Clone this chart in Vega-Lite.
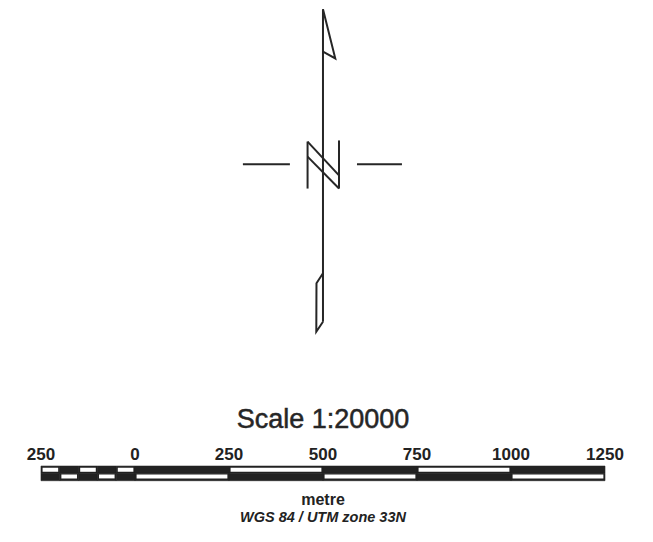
{
  "$schema": "https://vega.github.io/schema/vega-lite/v6.json",
  "width": 653,
  "height": 542,
  "padding": 0,
  "autosize": {"type": "fit", "contains": "padding"},
  "background": "white",
  "config": {"view": {"stroke": null}},
  "datasets": {
    "segments": [
      {"row": "top", "start": -250, "end": -200, "fill": "white"},
      {"row": "top", "start": -200, "end": -150, "fill": "black"},
      {"row": "top", "start": -150, "end": -100, "fill": "white"},
      {"row": "top", "start": -100, "end": -50, "fill": "black"},
      {"row": "top", "start": -50, "end": 0, "fill": "white"},
      {"row": "top", "start": 0, "end": 250, "fill": "black"},
      {"row": "top", "start": 250, "end": 500, "fill": "white"},
      {"row": "top", "start": 500, "end": 750, "fill": "black"},
      {"row": "top", "start": 750, "end": 1000, "fill": "white"},
      {"row": "top", "start": 1000, "end": 1250, "fill": "black"},
      {"row": "bottom", "start": -250, "end": -200, "fill": "black"},
      {"row": "bottom", "start": -200, "end": -150, "fill": "white"},
      {"row": "bottom", "start": -150, "end": -100, "fill": "black"},
      {"row": "bottom", "start": -100, "end": -50, "fill": "white"},
      {"row": "bottom", "start": -50, "end": 0, "fill": "black"},
      {"row": "bottom", "start": 0, "end": 250, "fill": "white"},
      {"row": "bottom", "start": 250, "end": 500, "fill": "black"},
      {"row": "bottom", "start": 500, "end": 750, "fill": "white"},
      {"row": "bottom", "start": 750, "end": 1000, "fill": "black"},
      {"row": "bottom", "start": 1000, "end": 1250, "fill": "white"}
    ],
    "ticks": [
      {"m": -250, "label": "250"},
      {"m": 0, "label": "0"},
      {"m": 250, "label": "250"},
      {"m": 500, "label": "500"},
      {"m": 750, "label": "750"},
      {"m": 1000, "label": "1000"},
      {"m": 1250, "label": "1250"}
    ],
    "arrow": [
      {"shape": "main", "i": 0, "x": 500, "y": 1417},
      {"shape": "main", "i": 1, "x": 500, "y": 586},
      {"shape": "flag", "i": 0, "x": 500, "y": 1417},
      {"shape": "flag", "i": 1, "x": 532.7, "y": 1286},
      {"shape": "flag", "i": 2, "x": 500, "y": 1304},
      {"shape": "para", "i": 0, "x": 500, "y": 714.6},
      {"shape": "para", "i": 1, "x": 482.7, "y": 688},
      {"shape": "para", "i": 2, "x": 482.2, "y": 559.3},
      {"shape": "para", "i": 3, "x": 500, "y": 585.9},
      {"shape": "hleft", "i": 0, "x": 287, "y": 1004.5},
      {"shape": "hleft", "i": 1, "x": 412, "y": 1004.5},
      {"shape": "hright", "i": 0, "x": 590.4, "y": 1004.5},
      {"shape": "hright", "i": 1, "x": 710, "y": 1004.5},
      {"shape": "nleft", "i": 0, "x": 459, "y": 940},
      {"shape": "nleft", "i": 1, "x": 459, "y": 1065},
      {"shape": "ndiag1", "i": 0, "x": 459, "y": 1065},
      {"shape": "ndiag1", "i": 1, "x": 542.6, "y": 975},
      {"shape": "ndiag2", "i": 0, "x": 459, "y": 1025},
      {"shape": "ndiag2", "i": 1, "x": 542.6, "y": 940},
      {"shape": "nright", "i": 0, "x": 542.6, "y": 940},
      {"shape": "nright", "i": 1, "x": 542.6, "y": 1068}
    ],
    "titles": [
      {"key": "scale", "text": "Scale 1:20000"},
      {"key": "unit", "text": "metre"},
      {"key": "crs", "text": "WGS 84 / UTM zone 33N"}
    ]
  },
  "layer": [
    {
      "data": {"name": "segments"},
      "transform": [{"filter": "datum.row === 'top'"}],
      "mark": {"type": "rect", "color": "#222222", "stroke": "#222222", "strokeWidth": 0.6},
      "encoding": {
        "x": {"field": "start", "type": "quantitative", "scale": {"domain": [-359, 1377.7], "nice": false, "zero": false}, "axis": null},
        "x2": {"field": "end"},
        "y": {"datum": 202, "type": "quantitative", "scale": {"domain": [0, 1441.5], "nice": false, "zero": false}, "axis": null},
        "y2": {"datum": 183}
      }
    },
    {
      "data": {"name": "segments"},
      "transform": [{"filter": "datum.row === 'bottom'"}],
      "mark": {"type": "rect", "color": "#222222", "stroke": "#222222", "strokeWidth": 0.6},
      "encoding": {
        "x": {"field": "start", "type": "quantitative"},
        "x2": {"field": "end"},
        "y": {"datum": 183, "type": "quantitative"},
        "y2": {"datum": 163}
      }
    },
    {
      "data": {"name": "segments"},
      "transform": [{"filter": "datum.row === 'top' && datum.fill === 'white'"}],
      "mark": {"type": "rect", "color": "white", "xOffset": 1.6, "x2Offset": -1.6, "yOffset": 1.7, "y2Offset": -1.4},
      "encoding": {
        "x": {"field": "start", "type": "quantitative"},
        "x2": {"field": "end"},
        "y": {"datum": 202, "type": "quantitative"},
        "y2": {"datum": 183}
      }
    },
    {
      "data": {"name": "segments"},
      "transform": [{"filter": "datum.row === 'bottom' && datum.fill === 'white'"}],
      "mark": {"type": "rect", "color": "white", "xOffset": 1.6, "x2Offset": -1.6, "yOffset": 1.3, "y2Offset": -2.3},
      "encoding": {
        "x": {"field": "start", "type": "quantitative"},
        "x2": {"field": "end"},
        "y": {"datum": 183, "type": "quantitative"},
        "y2": {"datum": 163}
      }
    },
    {
      "data": {"name": "ticks"},
      "mark": {"type": "text", "font": "Liberation Sans", "fontSize": 17, "fontWeight": "bold", "color": "#222222", "align": "center", "baseline": "alphabetic"},
      "encoding": {
        "x": {"field": "m", "type": "quantitative"},
        "y": {"datum": 219.4, "type": "quantitative"},
        "text": {"field": "label"}
      }
    },
    {
      "data": {"name": "arrow"},
      "mark": {"type": "line", "color": "#262626", "strokeWidth": 2, "strokeJoin": "miter", "strokeCap": "butt"},
      "encoding": {
        "x": {"field": "x", "type": "quantitative"},
        "y": {"field": "y", "type": "quantitative"},
        "detail": {"field": "shape"},
        "order": {"field": "i"}
      }
    },
    {
      "data": {"name": "titles"},
      "transform": [{"filter": "datum.key === 'scale'"}],
      "mark": {"type": "text", "font": "Liberation Sans", "fontSize": 27, "letterSpacing": 0.4, "color": "#262626", "stroke": "#262626", "strokeWidth": 0.5, "align": "center", "baseline": "alphabetic"},
      "encoding": {
        "x": {"datum": 500, "type": "quantitative"},
        "y": {"datum": 302.4, "type": "quantitative"},
        "text": {"field": "text"}
      }
    },
    {
      "data": {"name": "titles"},
      "transform": [{"filter": "datum.key === 'unit'"}],
      "mark": {"type": "text", "font": "Liberation Sans", "fontSize": 16, "fontWeight": "bold", "color": "#222222", "align": "center", "baseline": "alphabetic"},
      "encoding": {
        "x": {"datum": 500, "type": "quantitative"},
        "y": {"datum": 98.4, "type": "quantitative"},
        "text": {"field": "text"}
      }
    },
    {
      "data": {"name": "titles"},
      "transform": [{"filter": "datum.key === 'crs'"}],
      "mark": {"type": "text", "font": "Liberation Sans", "fontSize": 14.5, "fontWeight": "bold", "fontStyle": "italic", "letterSpacing": -0.3, "color": "#222222", "align": "center", "baseline": "alphabetic"},
      "encoding": {
        "x": {"datum": 500, "type": "quantitative"},
        "y": {"datum": 54, "type": "quantitative"},
        "text": {"field": "text"}
      }
    }
  ]
}
